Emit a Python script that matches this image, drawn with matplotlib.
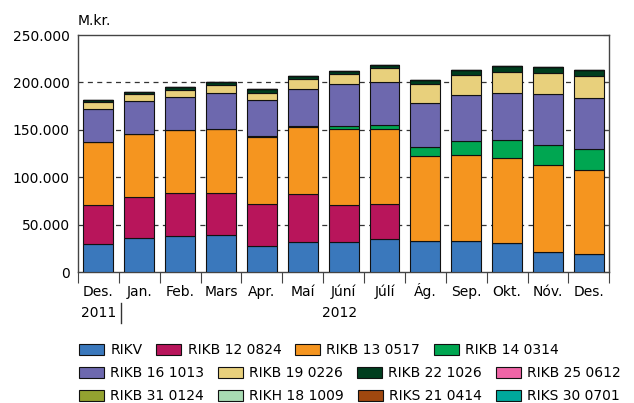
import numpy as np
import matplotlib
matplotlib.use("Agg")
import matplotlib.pyplot as plt
from matplotlib.ticker import FuncFormatter, FixedLocator

plt.rcParams['font.family'] = ['DejaVu Sans']
plt.rcParams['font.size'] = 10

months = ['Des.', 'Jan.', 'Feb.', 'Mars', 'Apr.', 'Maí', 'Júní', 'Júlí',
          'Ág.', 'Sep.', 'Okt.', 'Nóv.', 'Des.']

# values in thousands of M.kr.
rikv     = [29.2, 35.9, 38.0, 39.0, 27.1, 31.7, 31.7, 34.8, 33.2, 33.2, 31.0, 21.5, 18.7]
rikb1208 = [42.0, 43.3, 45.1, 44.8, 45.1, 51.1, 39.5, 37.4, 0, 0, 0, 0, 0]
rikb1305 = [66.5, 66.9, 66.9, 66.9, 70.0, 70.0, 79.5, 78.8, 89.7, 90.4, 89.8, 90.9, 89.4]
rikb1403 = [0, 0, 0, 0, 0.8, 1.5, 3.5, 3.9, 9.5, 14.4, 18.3, 22.1, 22.2]
rikb1610 = [34.1, 34.2, 34.8, 38.7, 38.0, 38.6, 44.0, 45.1, 45.7, 48.6, 50.3, 53.5, 52.8]
rikb1902 = [7.7, 7.7, 7.4, 7.7, 8.4, 10.3, 10.6, 14.8, 20.1, 21.1, 21.8, 22.1, 23.9]
rikb2210 = [2.1, 2.0, 2.8, 3.5, 3.2, 3.5, 3.4, 3.5, 4.2, 5.0, 5.7, 5.7, 5.7]
rikb2506 = [0] * 13
rikb3101 = [0] * 13
rikh1810 = [0] * 13
riks2104 = [0] * 13
riks3007 = [0] * 13

series = [
    ('RIKV', rikv, '#3a78bc'),
    ('RIKB 12 0824', rikb1208, '#b8155b'),
    ('RIKB 13 0517', rikb1305, '#f5951f'),
    ('RIKB 14 0314', rikb1403, '#00a651'),
    ('RIKB 16 1013', rikb1610, '#6d68ae'),
    ('RIKB 19 0226', rikb1902, '#e8d07c'),
    ('RIKB 22 1026', rikb2210, '#003d1e'),
    ('RIKB 25 0612', rikb2506, '#ef64a6'),
    ('RIKB 31 0124', rikb3101, '#93a230'),
    ('RIKH 18 1009', rikh1810, '#a8dbb3'),
    ('RIKS 21 0414', riks2104, '#a0480f'),
    ('RIKS 30 0701', riks3007, '#00a89c'),
]

fig = plt.figure(figsize=(6.34, 4.03), dpi=100)
ax = fig.add_axes([0.123, 0.325, 0.838, 0.588])

x = np.arange(len(months))
bottom = np.zeros(len(months))
handles = []
for name, vals, col in series:
    v = np.array(vals, dtype=float)
    b = ax.bar(x, v, 0.73, bottom=bottom, color=col, edgecolor='#111111',
               linewidth=0.8, label=name, zorder=3)
    handles.append(b)
    bottom += v

ax.set_xlim(-0.5, len(months) - 0.5)
ax.set_ylim(0, 250)
ax.set_yticks([0, 50, 100, 150, 200, 250])
ax.yaxis.set_major_formatter(FuncFormatter(
    lambda v, p: f"{v * 1000:,.0f}".replace(',', '.')))
for yv in [50, 100, 150, 200]:
    ax.axhline(yv, color='#333333', lw=0.9, ls=(0, (4, 3.5)), zorder=1)
ax.tick_params(axis='y', which='both', left=False, right=True,
               direction='in', length=4, labelsize=10, pad=6, color='#444444')

# category boundaries as ticks, labels at centres
ax.xaxis.set_major_locator(FixedLocator(np.arange(-0.5, len(months), 1.0)))
ax.xaxis.set_minor_locator(FixedLocator(x))
ax.set_xticklabels([])
ax.set_xticklabels(months, minor=True)
ax.tick_params(axis='x', which='major', length=8, direction='out', color='#444444')
ax.tick_params(axis='x', which='minor', length=0, pad=17.5, labelsize=10)
for lab in ax.get_xticklabels(minor=True):
    lab.set_verticalalignment('baseline')

for s in ax.spines.values():
    s.set_color('#444444')
    s.set_linewidth(1.0)

ax.text(0.0, 1.03, 'M.kr.', transform=ax.transAxes, ha='left', va='bottom', fontsize=10)

trans = ax.get_xaxis_transform()
ax.text(0, -0.173, '2011', transform=trans, ha='center', va='center', fontsize=10)
ax.text(5.9, -0.173, '2012', transform=trans, ha='center', va='center', fontsize=10)
ax.plot([0.55, 0.55], [-0.131, -0.215], transform=trans, color='#333333',
        lw=1.0, clip_on=False)

rows = [handles[0:4], handles[4:8], handles[8:12]]
row_y = [0.1315, 0.0744, 0.0174]
for hs, yy in zip(rows, row_y):
    fig.legend(handles=hs, labels=[h.get_label() for h in hs], ncol=4,
               loc='center left', bbox_to_anchor=(0.1246, yy), frameon=False,
               borderpad=0, borderaxespad=0, handlelength=1.8, handleheight=0.85,
               handletextpad=0.45, columnspacing=1.0, fontsize=10)

plt.savefig('out.png', dpi=100)
